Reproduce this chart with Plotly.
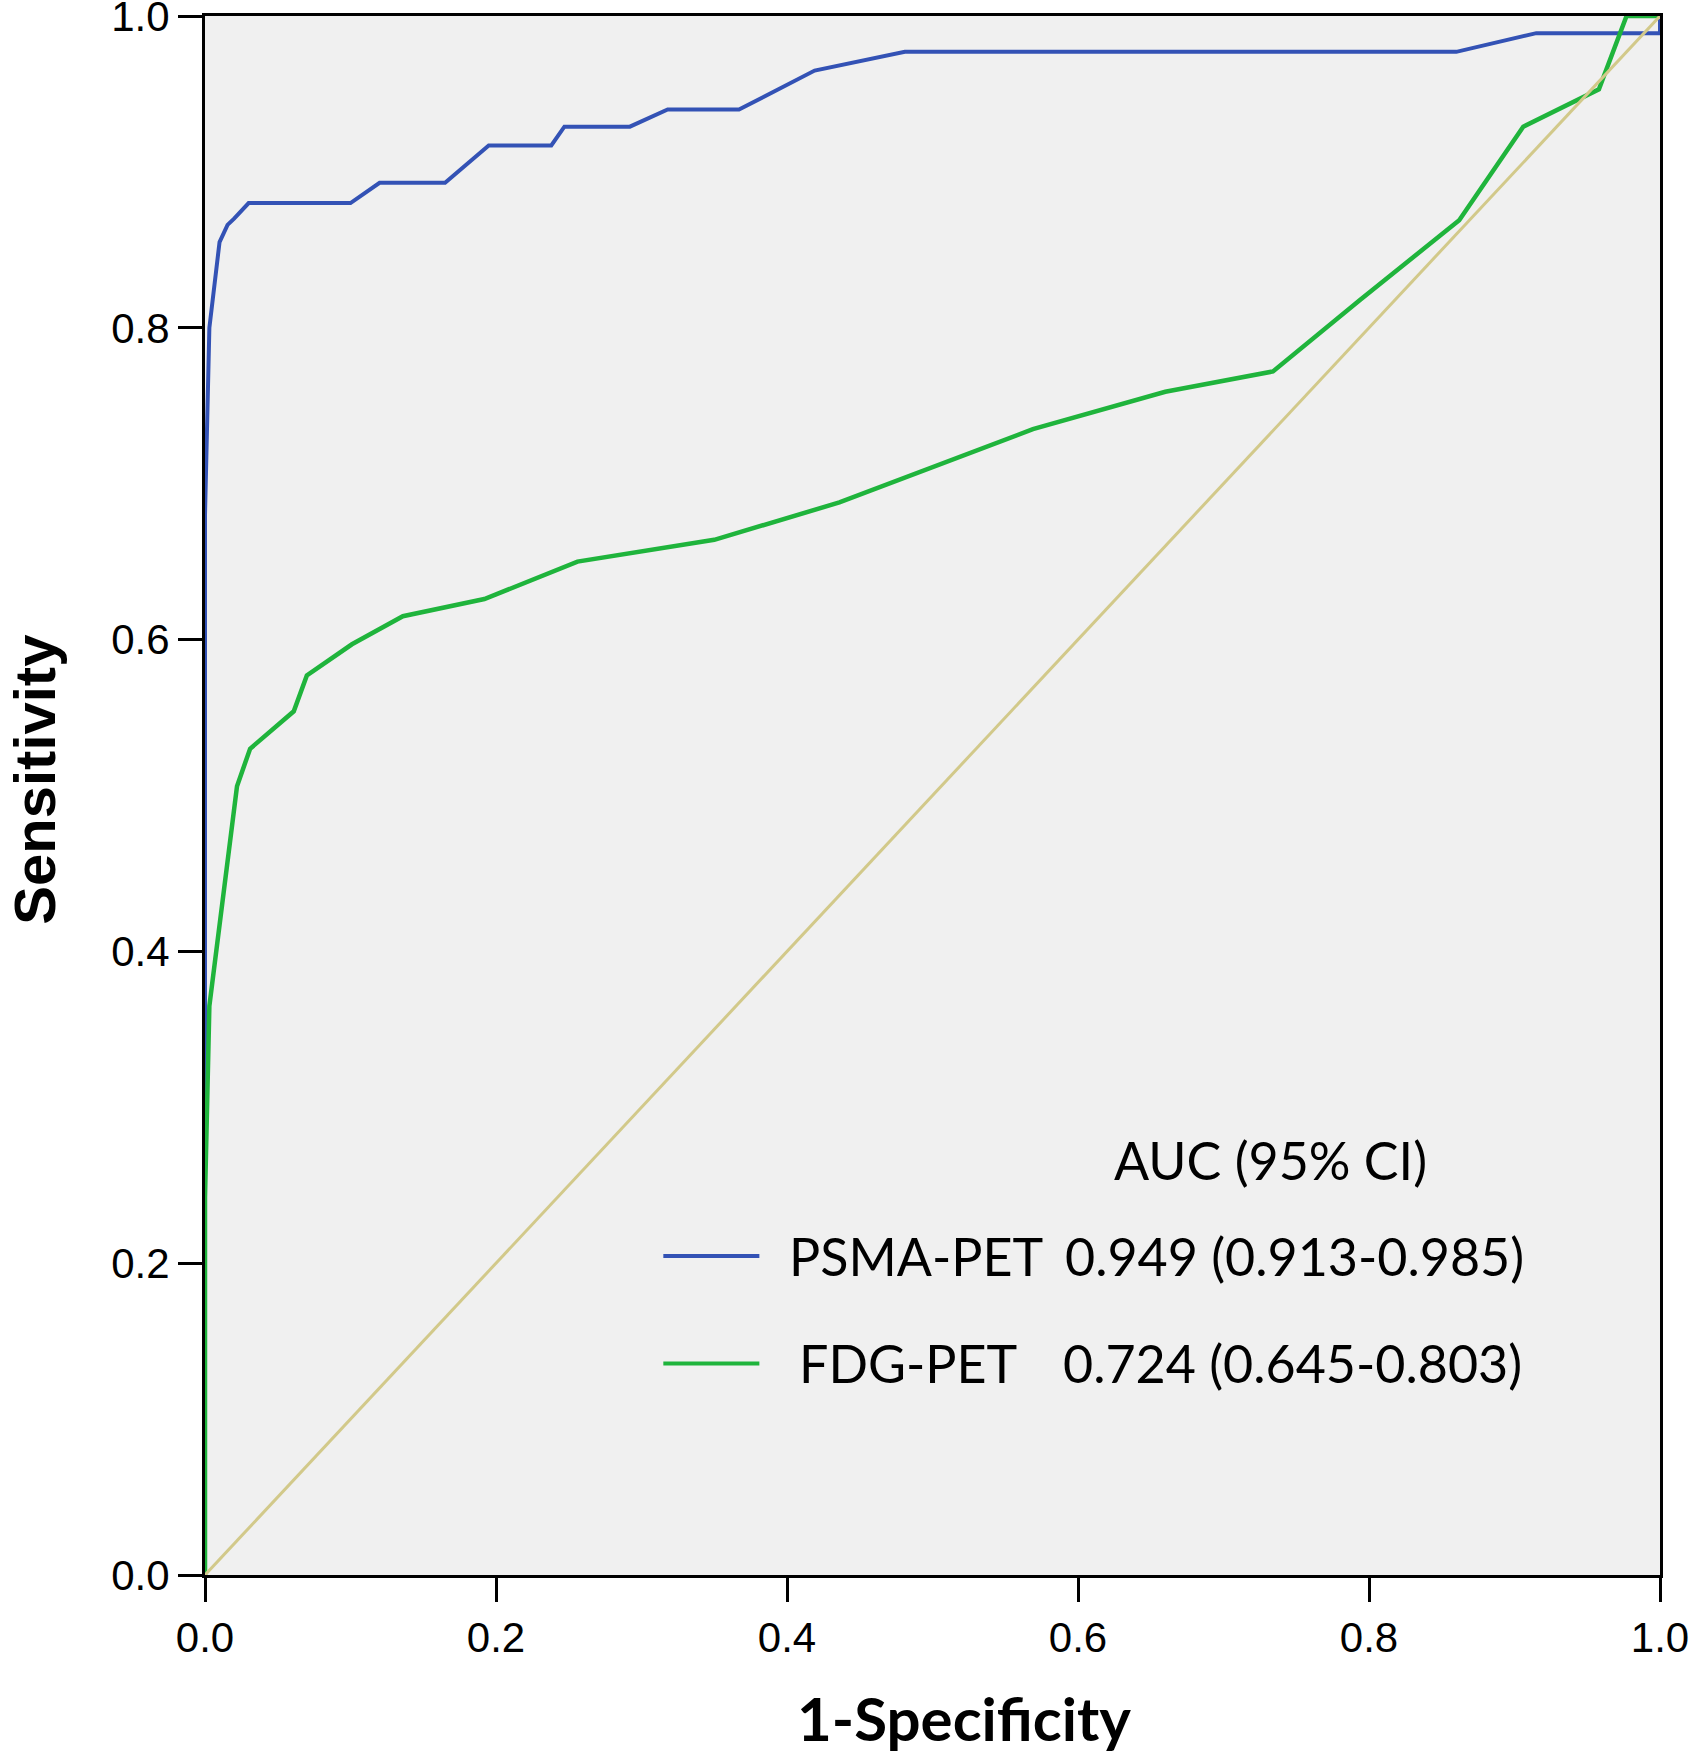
import plotly.graph_objects as go

# ROC curve points (1-specificity, sensitivity)
psma_fpr = [0.0, 0.0, 0.003, 0.010, 0.0155, 0.020, 0.030, 0.100, 0.120, 0.165,
            0.195, 0.238, 0.247, 0.292, 0.318, 0.367, 0.419, 0.481, 0.860,
            0.915, 1.0, 1.0]
psma_tpr = [0.0, 0.680, 0.800, 0.855, 0.866, 0.870, 0.880, 0.880, 0.893, 0.893,
            0.917, 0.917, 0.929, 0.929, 0.940, 0.940, 0.965, 0.977, 0.977,
            0.989, 0.989, 1.0]

fdg_fpr = [0.0, 0.0, 0.003, 0.0115, 0.022, 0.031, 0.061, 0.070, 0.101, 0.136,
           0.192, 0.256, 0.350, 0.436, 0.569, 0.660, 0.734, 0.794, 0.862,
           0.906, 0.958, 0.977, 1.0]
fdg_tpr = [0.0, 0.242, 0.365, 0.427, 0.506, 0.530, 0.554, 0.577, 0.597, 0.615,
           0.626, 0.650, 0.664, 0.688, 0.735, 0.759, 0.772, 0.818, 0.869,
           0.929, 0.953, 1.0, 1.0]

ref_line = [0.0, 1.0]

names = ['PSMA-PET', 'FDG-PET']
auc = ['0.949', '0.724']
ci = ['0.913-0.985', '0.645-0.803']

blue = '#3352B5'
green = '#1FB43C'
diag_color = '#D2C98A'

fig = go.Figure()
fig.add_trace(go.Scatter(x=psma_fpr, y=psma_tpr, mode='lines',
                         line=dict(color=blue, width=4), name=names[0]))
fig.add_trace(go.Scatter(x=fdg_fpr, y=fdg_tpr, mode='lines',
                         line=dict(color=green, width=4.5), name=names[1]))
fig.add_trace(go.Scatter(x=ref_line, y=ref_line, mode='lines',
                         line=dict(color=diag_color, width=3), name='Reference'))

# hand-made legend block inside the plot
text_font = dict(family='Lato', size=52, color='black')
fig.add_annotation(x=0.732, y=0.266, xref='x', yref='y', text='AUC (95% CI)',
                   showarrow=False, font=text_font, xanchor='center')
legend_y = [0.2046, 0.1357]
name_x = [0.400, 0.407]
value_x = [0.590, 0.588]
colors = [blue, green]
for i in range(2):
    fig.add_shape(type='line', xref='x', yref='y', x0=0.315, x1=0.381,
                  y0=legend_y[i], y1=legend_y[i],
                  line=dict(color=colors[i], width=4))
    fig.add_annotation(x=name_x[i], y=legend_y[i], xref='x', yref='y',
                       text=names[i], showarrow=False, font=text_font,
                       xanchor='left')
    fig.add_annotation(x=value_x[i], y=legend_y[i], xref='x', yref='y',
                       text='%s (%s)' % (auc[i], ci[i]), showarrow=False,
                       font=text_font, xanchor='left')

# axis titles
fig.add_annotation(x=0.5215, y=-0.092, xref='paper', yref='paper',
                   xanchor='center', yanchor='middle',
                   text='<b>1-Specificity</b>', showarrow=False,
                   font=dict(family='Lato', size=60, color='black'))
fig.add_annotation(x=-0.117, y=0.51, xref='paper', yref='paper',
                   xanchor='center', yanchor='middle',
                   text='<b>Sensitivity</b>', showarrow=False, textangle=-90,
                   font=dict(family='Liberation Sans', size=58, color='black'))

tick_font = dict(family='Liberation Sans', size=42, color='black')
axis_style = dict(range=[0, 1], tickvals=[0, 0.2, 0.4, 0.6, 0.8, 1.0],
                  tickformat='.1f', showgrid=False, zeroline=False,
                  showline=True, linecolor='black', linewidth=3, mirror=True,
                  ticks='outside', ticklen=24, tickwidth=3, tickcolor='black',
                  tickfont=tick_font, automargin=False,
                  ticklabeloverflow='allow')

fig.update_xaxes(**axis_style)
fig.update_yaxes(**axis_style)

fig.update_layout(width=1693, height=1758,
                  margin=dict(l=205, r=33, t=16, b=183),
                  plot_bgcolor='#F0F0F0', paper_bgcolor='white',
                  showlegend=False)

# page body has a default 8px margin; drop it so the figure sits at the corner
fig.write_html('out.html', config={'displayModeBar': False},
               post_script="document.body.style.margin='0';")
